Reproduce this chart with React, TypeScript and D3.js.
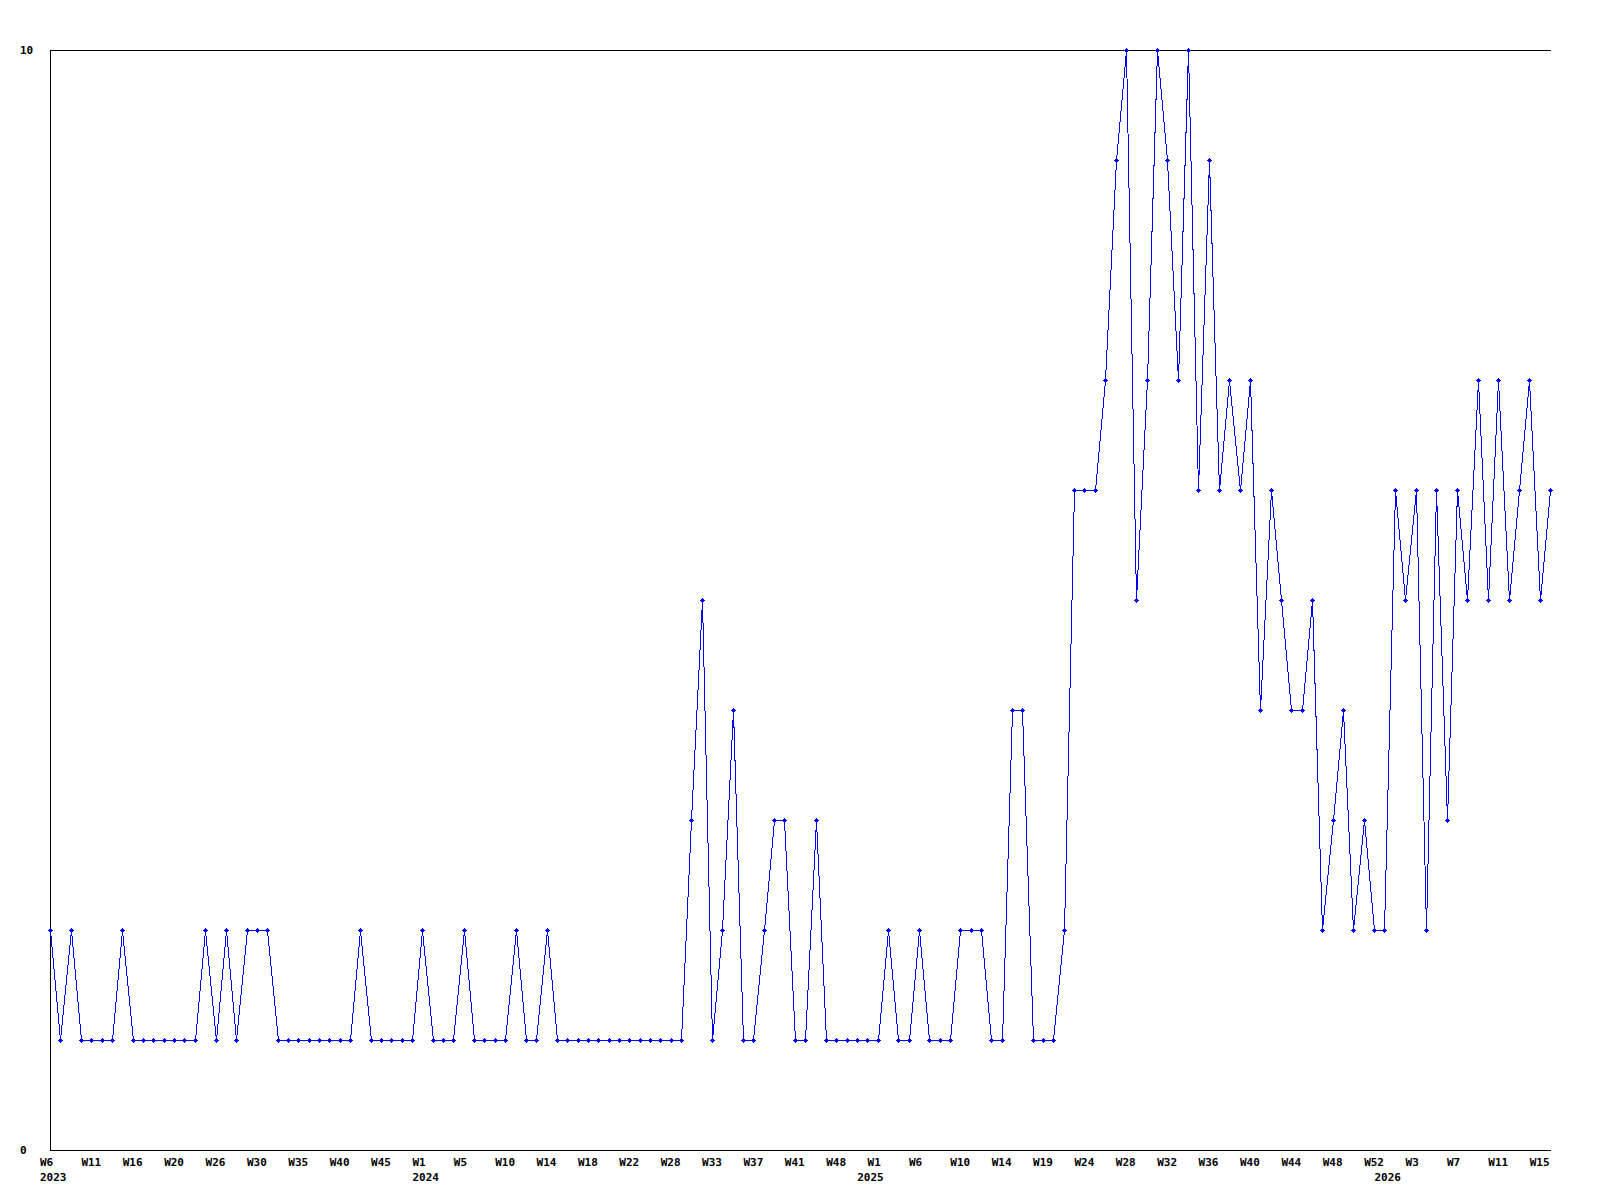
import React from "react";
import * as d3 from "d3";

const values: number[] = [
  2, 1, 2, 1, 1, 1, 1, 2, 1, 1, 1, 1, 1, 1, 1, 2, 1, 2, 1, 2,
  2, 2, 1, 1, 1, 1, 1, 1, 1, 1, 2, 1, 1, 1, 1, 1, 2, 1, 1, 1,
  2, 1, 1, 1, 1, 2, 1, 1, 2, 1, 1, 1, 1, 1, 1, 1, 1, 1, 1, 1,
  1, 1, 3, 5, 1, 2, 4, 1, 1, 2, 3, 3, 1, 1, 3, 1, 1, 1, 1, 1,
  1, 2, 1, 1, 2, 1, 1, 1, 2, 2, 2, 1, 1, 4, 4, 1, 1, 1, 2, 6,
  6, 6, 7, 9, 10, 5, 7, 10, 9, 7, 10, 6, 9, 6, 7, 6, 7, 4, 6, 5,
  4, 4, 5, 2, 3, 4, 2, 3, 2, 2, 6, 5, 6, 2, 6, 3, 6, 5, 7, 5,
  7, 5, 6, 7, 5, 6,
];

const weekLabels: string[] = [
  "W6", "W11", "W16", "W20", "W26", "W30", "W35", "W40", "W45",
  "W1", "W5", "W10", "W14", "W18", "W22", "W28", "W33", "W37", "W41", "W48",
  "W1", "W6", "W10", "W14", "W19", "W24", "W28", "W32", "W36", "W40", "W44", "W48", "W52",
  "W3", "W7", "W11", "W15",
];
const labelEvery = 4;

const yearLabels: string[] = ["2023", "2024", "2025", "2026"];
const yearStartIndex: number[] = [0, 36, 79, 129];

const yTicks: number[] = [0, 10];

const W = 1600;
const H = 1200;
const left = 50;
const right = 1550;
const top = 50;
const bottom = 1150;
const font = "'DejaVu Sans Mono', monospace";

export default function App() {
  const x = d3.scaleLinear().domain([0, values.length - 1]).range([left, right]);
  const y = d3.scaleLinear().domain([0, 10]).range([bottom, top]);
  const line = d3
    .line<number>()
    .x((_, i) => Math.round(x(i)) + 0.5)
    .y((d) => Math.round(y(d)) + 0.5);

  return (
    <svg
      width={W}
      height={H}
      style={{ position: "absolute", left: 0, top: 0, background: "#fff" }}
    >
      <rect x={0} y={0} width={W} height={H} fill="#fff" />
      <g shapeRendering="crispEdges" stroke="#000" strokeWidth={1}>
        <line x1={left + 0.5} y1={top} x2={left + 0.5} y2={bottom + 1} />
        <line x1={left} y1={bottom + 0.5} x2={right + 1} y2={bottom + 0.5} />
        <line x1={left} y1={top + 0.5} x2={right + 1} y2={top + 0.5} />
      </g>
      {yTicks.map((t) => (
        <text
          key={t}
          x={20}
          y={y(t) + 4}
          fontFamily={font}
          fontWeight="bold"
          fontSize={11}
          fill="#000"
        >
          {t}
        </text>
      ))}
      {weekLabels.map((lab, i) => (
        <text
          key={"w" + i}
          x={x(i * labelEvery) - 10}
          y={1166}
          fontFamily={font}
          fontWeight="bold"
          fontSize={11}
          fill="#000"
        >
          {lab}
        </text>
      ))}
      {yearLabels.map((lab, i) => (
        <text
          key={"y" + i}
          x={x(yearStartIndex[i]) - 10}
          y={1181}
          fontFamily={font}
          fontWeight="bold"
          fontSize={11}
          fill="#000"
        >
          {lab}
        </text>
      ))}
      <path
        d={line(values) || ""}
        fill="none"
        stroke="#0000ff"
        strokeWidth={1}
        shapeRendering="crispEdges"
      />
      <g fill="#0000ff" shapeRendering="crispEdges">
        {values.map((v, i) => {
          const cx = Math.round(x(i));
          const cy = Math.round(y(v));
          return (
            <g key={i}>
              <rect x={cx - 2} y={cy} width={5} height={1} />
              <rect x={cx} y={cy - 2} width={1} height={5} />
              <rect x={cx - 1} y={cy - 1} width={3} height={3} />
            </g>
          );
        })}
      </g>
    </svg>
  );
}
